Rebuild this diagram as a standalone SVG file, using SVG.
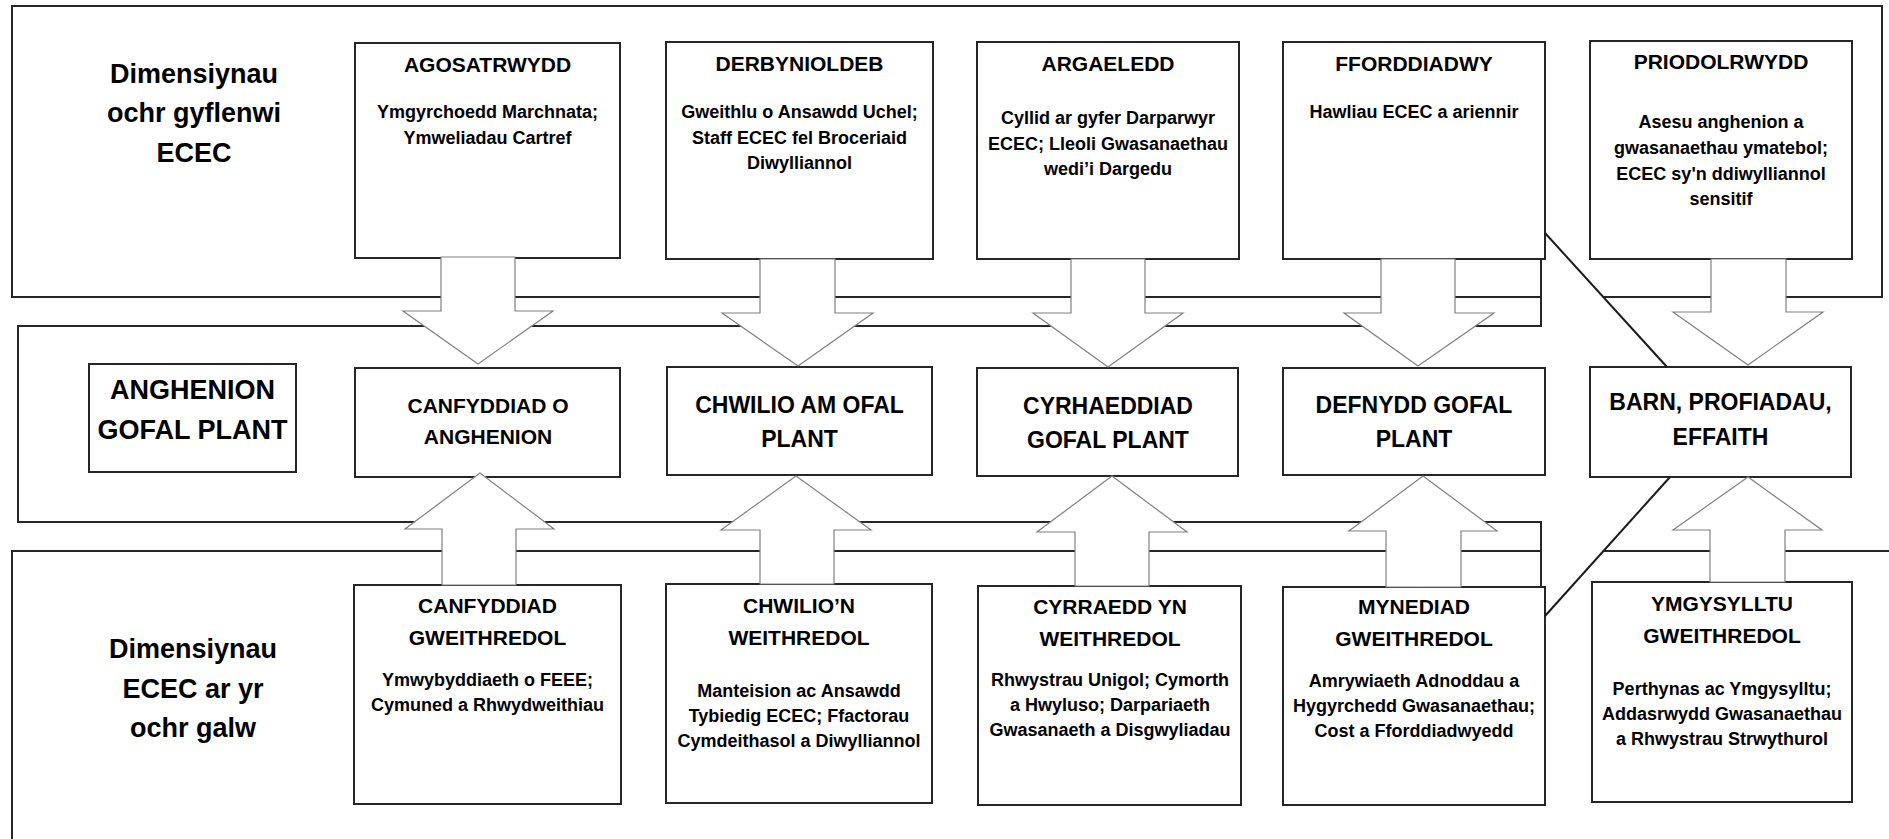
<svg xmlns="http://www.w3.org/2000/svg" width="1889" height="839" viewBox="0 0 1889 839">
<style>
  .frame { fill: none; stroke: #262626; stroke-width: 2; }
  .box { fill: #ffffff; stroke: #262626; stroke-width: 2; }
  .arrow { fill: #ffffff; stroke: #808080; stroke-width: 1.2; stroke-linejoin: miter; }
  .diag { fill: none; stroke: #1a1a1a; stroke-width: 2; }
  text { font-family: "Liberation Sans", Arial, sans-serif; font-weight: bold; fill: #000000; text-anchor: middle; }
  .side { font-size: 27px; }
  .title { font-size: 21px; }
  .body { font-size: 18px; }
  .mid { font-size: 23px; }
  .mids { font-size: 21px; }
  .need { font-size: 27px; }
</style>
<rect x="0" y="0" width="1889" height="839" fill="#ffffff"/>

<g id="frames">
  <path class="frame" d="M1541,297 H12 V6 H1882 V297 H1604"/>
  <path class="frame" d="M1541,259 V326 H18 V522 H1541 V587"/>
  <path class="frame" d="M12,839 V551 H1541"/>
  <path class="frame" d="M1603,551 H1889"/>
</g>

<g id="labels">
  <text class="side" x="194" y="83">Dimensiynau</text>
  <text class="side" x="194" y="122">ochr gyflenwi</text>
  <text class="side" x="194" y="162">ECEC</text>
  <text class="side" x="193" y="658">Dimensiynau</text>
  <text class="side" x="193" y="698">ECEC ar yr</text>
  <text class="side" x="193" y="737">ochr galw</text>
</g>

<g id="node-agosatrwydd">
  <rect class="box" x="355" y="43" width="265" height="215"/>
  <text class="title" x="487.5" y="72">AGOSATRWYDD</text>
  <text class="body" x="487.5" y="118">Ymgyrchoedd Marchnata;</text>
  <text class="body" x="487.5" y="144">Ymweliadau Cartref</text>
</g>
<g id="node-derbynioldeb">
  <rect class="box" x="666" y="42" width="267" height="217"/>
  <text class="title" x="799.5" y="71">DERBYNIOLDEB</text>
  <text class="body" x="799.5" y="118">Gweithlu o Ansawdd Uchel;</text>
  <text class="body" x="799.5" y="143.5">Staff ECEC fel Broceriaid</text>
  <text class="body" x="799.5" y="169">Diwylliannol</text>
</g>
<g id="node-argaeledd">
  <rect class="box" x="977" y="42" width="262" height="217"/>
  <text class="title" x="1108" y="71">ARGAELEDD</text>
  <text class="body" x="1108" y="124">Cyllid ar gyfer Darparwyr</text>
  <text class="body" x="1108" y="150">ECEC; Lleoli Gwasanaethau</text>
  <text class="body" x="1108" y="175">wedi’i Dargedu</text>
</g>
<g id="node-fforddiadwy">
  <rect class="box" x="1283" y="42" width="262" height="217"/>
  <text class="title" x="1414" y="71">FFORDDIADWY</text>
  <text class="body" x="1414" y="118">Hawliau ECEC a ariennir</text>
</g>
<g id="node-priodolrwydd">
  <rect class="box" x="1590" y="41" width="262" height="218"/>
  <text class="title" x="1721" y="69">PRIODOLRWYDD</text>
  <text class="body" x="1721" y="128">Asesu anghenion a</text>
  <text class="body" x="1721" y="154">gwasanaethau ymatebol;</text>
  <text class="body" x="1721" y="179.5">ECEC sy'n ddiwylliannol</text>
  <text class="body" x="1721" y="205">sensitif</text>
</g>

<g id="node-anghenion">
  <rect class="box" x="89" y="364" width="207" height="108"/>
  <text class="need" x="192.5" y="399">ANGHENION</text>
  <text class="need" x="192.5" y="439">GOFAL PLANT</text>
</g>
<g id="node-canfyddiad-anghenion">
  <rect class="box" x="355" y="368" width="265" height="109"/>
  <text class="mids" x="488" y="413">CANFYDDIAD O</text>
  <text class="mids" x="488" y="444">ANGHENION</text>
</g>
<g id="node-chwilio">
  <rect class="box" x="667" y="367" width="265" height="108"/>
  <text class="mid" x="799.5" y="413">CHWILIO AM OFAL</text>
  <text class="mid" x="799.5" y="447">PLANT</text>
</g>
<g id="node-cyrhaeddiad">
  <rect class="box" x="977" y="368" width="261" height="108"/>
  <text class="mid" x="1108" y="414">CYRHAEDDIAD</text>
  <text class="mid" x="1108" y="448">GOFAL PLANT</text>
</g>
<g id="node-defnydd">
  <rect class="box" x="1283" y="368" width="262" height="107"/>
  <text class="mid" x="1414" y="413">DEFNYDD GOFAL</text>
  <text class="mid" x="1414" y="447">PLANT</text>
</g>
<g id="node-barn">
  <rect class="box" x="1590" y="367" width="261" height="110"/>
  <text class="mid" x="1720.5" y="410">BARN, PROFIADAU,</text>
  <text class="mid" x="1720.5" y="445">EFFAITH</text>
</g>

<g id="node-canfyddiad-gweithredol">
  <rect class="box" x="354" y="585" width="267" height="219"/>
  <text class="title" x="487.5" y="613">CANFYDDIAD</text>
  <text class="title" x="487.5" y="645">GWEITHREDOL</text>
  <text class="body" x="487.5" y="686">Ymwybyddiaeth o FEEE;</text>
  <text class="body" x="487.5" y="711">Cymuned a Rhwydweithiau</text>
</g>
<g id="node-chwilion-weithredol">
  <rect class="box" x="666" y="584" width="266" height="219"/>
  <text class="title" x="799" y="613">CHWILIO’N</text>
  <text class="title" x="799" y="645">WEITHREDOL</text>
  <text class="body" x="799" y="697">Manteision ac Ansawdd</text>
  <text class="body" x="799" y="722">Tybiedig ECEC; Ffactorau</text>
  <text class="body" x="799" y="747">Cymdeithasol a Diwylliannol</text>
</g>
<g id="node-cyrraedd">
  <rect class="box" x="978" y="586" width="263" height="219"/>
  <text class="title" x="1110" y="614">CYRRAEDD YN</text>
  <text class="title" x="1110" y="646">WEITHREDOL</text>
  <text class="body" x="1110" y="686">Rhwystrau Unigol; Cymorth</text>
  <text class="body" x="1110" y="711">a Hwyluso; Darpariaeth</text>
  <text class="body" x="1110" y="736">Gwasanaeth a Disgwyliadau</text>
</g>
<g id="node-mynediad">
  <rect class="box" x="1283" y="587" width="262" height="218"/>
  <text class="title" x="1414" y="614">MYNEDIAD</text>
  <text class="title" x="1414" y="646">GWEITHREDOL</text>
  <text class="body" x="1414" y="687">Amrywiaeth Adnoddau a</text>
  <text class="body" x="1414" y="712">Hygyrchedd Gwasanaethau;</text>
  <text class="body" x="1414" y="737">Cost a Fforddiadwyedd</text>
</g>
<g id="node-ymgysylltu">
  <rect class="box" x="1592" y="582" width="260" height="220"/>
  <text class="title" x="1722" y="611">YMGYSYLLTU</text>
  <text class="title" x="1722" y="643">GWEITHREDOL</text>
  <text class="body" x="1722" y="695">Perthynas ac Ymgysylltu;</text>
  <text class="body" x="1722" y="720">Addasrwydd Gwasanaethau</text>
  <text class="body" x="1722" y="745">a Rhwystrau Strwythurol</text>
</g>

<g id="connectors">
  <polygon class="arrow" points="441,257 515,257 515,311 553,311 478,364 403,311 441,311"/>
  <polygon class="arrow" points="760,259 835,259 835,313 873,313 798,366 722,313 760,313"/>
  <polygon class="arrow" points="1071,259 1145,259 1145,313 1183,313 1108,367 1033,313 1071,313"/>
  <polygon class="arrow" points="1381,259 1455,259 1455,313 1494,313 1418,366 1344,313 1381,313"/>
  <polygon class="arrow" points="1711,259 1786,259 1786,312 1823,312 1748,365 1673,312 1711,312"/>

  <polygon class="arrow" points="442,585 516,585 516,529 554,529 480,473 405,529 442,529"/>
  <polygon class="arrow" points="760,584 834,584 834,530 871,530 796,476 721,530 760,530"/>
  <polygon class="arrow" points="1075,586 1149,586 1149,532 1187,532 1112,476 1037,532 1075,532"/>
  <polygon class="arrow" points="1386,587 1461,587 1461,531 1497,531 1423,476 1349,531 1386,531"/>
  <polygon class="arrow" points="1710,582 1785,582 1785,530 1822,530 1748,477 1673,530 1710,530"/>

  <line class="diag" x1="1545" y1="233" x2="1667" y2="367"/>
  <line class="diag" x1="1670" y1="477" x2="1545" y2="616"/>
</g>
</svg>
